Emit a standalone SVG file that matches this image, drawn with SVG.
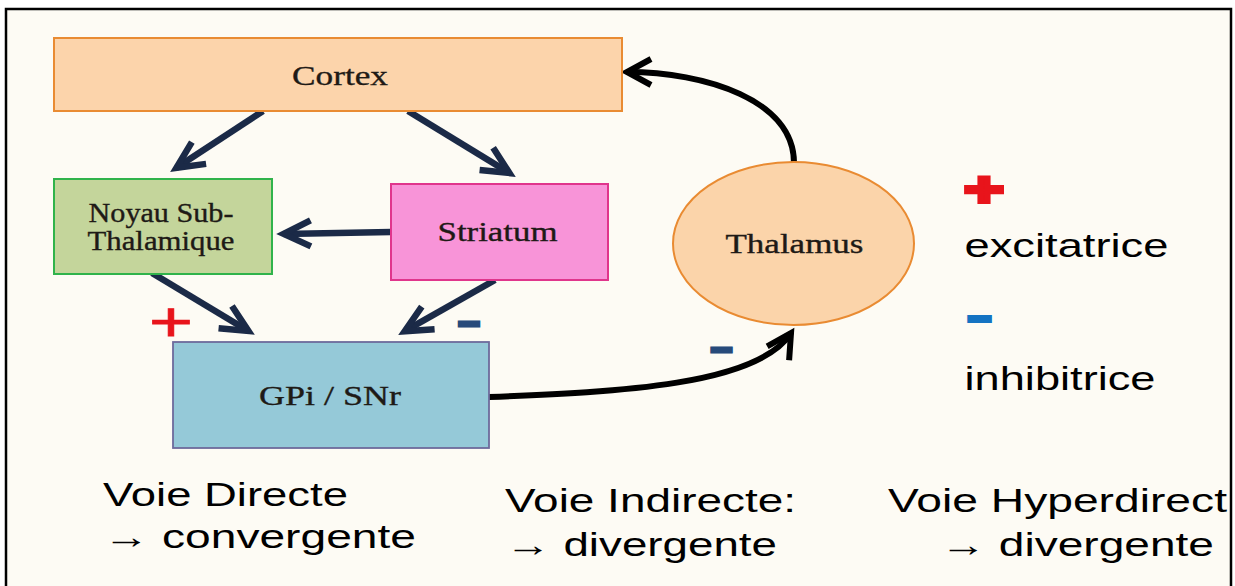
<svg xmlns="http://www.w3.org/2000/svg" width="1235" height="586" viewBox="0 0 1235 586">
<style>
.lbl{font-family:"Liberation Serif","Times New Roman",serif;fill:#1e1a16;stroke:#1e1a16;stroke-width:0.35;text-anchor:middle;font-size:27px}
.txt{font-family:"Liberation Sans",Arial,sans-serif;fill:#000;font-size:33px}
.navy{fill:none;stroke:#1b2a47;stroke-width:6.5}
.blk{fill:none;stroke:#000;stroke-width:6}
.sgn{font-family:"Liberation Sans",Arial,sans-serif}
</style>
<defs>
<marker id="hNavy" markerUnits="userSpaceOnUse" markerWidth="80" markerHeight="80" viewBox="-40 -40 80 80" refX="0" refY="0" orient="auto">
<path d="M -27 -13 L 0 0 L -27 13" fill="none" stroke="#1b2a47" stroke-width="6.5" stroke-linejoin="miter" stroke-miterlimit="10"/>
</marker>
<marker id="hBlk" markerUnits="userSpaceOnUse" markerWidth="80" markerHeight="80" viewBox="-40 -40 80 80" refX="0" refY="0" orient="auto">
<path d="M -24 -13 L 0 0 L -24 13" fill="none" stroke="#000" stroke-width="6" stroke-linejoin="miter" stroke-miterlimit="10"/>
</marker>
<clipPath id="frame"><rect x="6" y="9" width="1223" height="580"/></clipPath>
</defs>
<rect x="0" y="0" width="1235" height="586" fill="#ffffff"/>
<rect id="frame-box" x="6" y="9" width="1225" height="600" fill="#fdfbf4" stroke="#000" stroke-width="2.5"/>

<g id="connectors">
<path class="navy" d="M 263 111 L 176.4 167.8" marker-end="url(#hNavy)"/>
<path class="navy" d="M 408 111 L 509.4 173" marker-end="url(#hNavy)"/>
<path class="navy" d="M 391 232 L 283.7 233.9" marker-end="url(#hNavy)"/>
<path class="navy" d="M 152 273 L 248.4 331" marker-end="url(#hNavy)"/>
<path class="navy" d="M 495 280 L 404.7 331.2" marker-end="url(#hNavy)"/>
<path class="blk" d="M 794 163 C 794 100 705 72 627 72" marker-end="url(#hBlk)"/>
<path class="blk" d="M 489 397 C 620 392 758 385 791 333" marker-end="url(#hBlk)"/>
</g>

<g id="cortex">
<rect x="54" y="38" width="568" height="73" fill="#fcd4ab" stroke="#e98b32" stroke-width="2"/>
<text class="lbl" x="340" y="84.5" textLength="96" lengthAdjust="spacingAndGlyphs">Cortex</text>
</g>

<g id="nst">
<rect x="54" y="179" width="218" height="95" fill="#c4d59b" stroke="#30b34b" stroke-width="2"/>
<text class="lbl" x="161" y="222" font-size="26" textLength="145" lengthAdjust="spacingAndGlyphs">Noyau Sub-</text>
<text class="lbl" x="161" y="249.5" font-size="26" textLength="147" lengthAdjust="spacingAndGlyphs">Thalamique</text>
</g>

<g id="striatum">
<rect x="391" y="184" width="217" height="96" fill="#f894d8" stroke="#e0358c" stroke-width="2"/>
<text class="lbl" x="497.5" y="241" textLength="120" lengthAdjust="spacingAndGlyphs">Striatum</text>
</g>

<g id="gpi">
<rect x="173" y="342" width="316" height="106" fill="#95c9d8" stroke="#6d6a9c" stroke-width="1.8"/>
<text class="lbl" x="330" y="405" textLength="142" lengthAdjust="spacingAndGlyphs">GPi / SNr</text>
</g>

<g id="thalamus">
<ellipse cx="793.5" cy="243.5" rx="120.5" ry="81.5" fill="#fbd4aa" stroke="#e98b32" stroke-width="2"/>
<text class="lbl" x="794.5" y="253" textLength="138" lengthAdjust="spacingAndGlyphs">Thalamus</text>
</g>

<g id="signs">
<text class="sgn" x="149" y="340.5" font-size="56" fill="#e8141b" stroke="#e8141b" stroke-width="0.8" textLength="44" lengthAdjust="spacingAndGlyphs">+</text>
<text class="sgn" x="458" y="334.5" font-size="40" font-weight="bold" fill="#274a7a" stroke="#274a7a" stroke-width="3" textLength="22" lengthAdjust="spacingAndGlyphs">–</text>
<text class="sgn" x="710.5" y="361" font-size="40" font-weight="bold" fill="#274a7a" stroke="#274a7a" stroke-width="3" textLength="22" lengthAdjust="spacingAndGlyphs">–</text>
</g>

<g id="legend">
<text class="sgn" x="964" y="206" font-size="49" font-weight="bold" fill="#e8141b" stroke="#e8141b" stroke-width="4" textLength="40" lengthAdjust="spacingAndGlyphs">+</text>
<text class="txt" x="964.5" y="257" font-size="35" textLength="204" lengthAdjust="spacingAndGlyphs">excitatrice</text>
<text class="sgn" x="968" y="330" font-size="40" font-weight="bold" fill="#1473c2" stroke="#1473c2" stroke-width="4" textLength="23" lengthAdjust="spacingAndGlyphs">–</text>
<text class="txt" x="964.5" y="390" font-size="35" textLength="191" lengthAdjust="spacingAndGlyphs">inhibitrice</text>
</g>

<g id="pathways" clip-path="url(#frame)">
<text class="txt" x="103" y="505.5" textLength="245" lengthAdjust="spacingAndGlyphs">Voie Directe</text>
<text class="txt" x="103" y="548" textLength="313" lengthAdjust="spacingAndGlyphs">→ convergente</text>
<text class="txt" x="505" y="512" textLength="291" lengthAdjust="spacingAndGlyphs">Voie Indirecte:</text>
<text class="txt" x="505" y="556" textLength="272" lengthAdjust="spacingAndGlyphs">→ divergente</text>
<text class="txt" x="888" y="512" textLength="339" lengthAdjust="spacingAndGlyphs">Voie Hyperdirect</text>
<text class="txt" x="940" y="556" textLength="274" lengthAdjust="spacingAndGlyphs">→ divergente</text>
</g>
</svg>
